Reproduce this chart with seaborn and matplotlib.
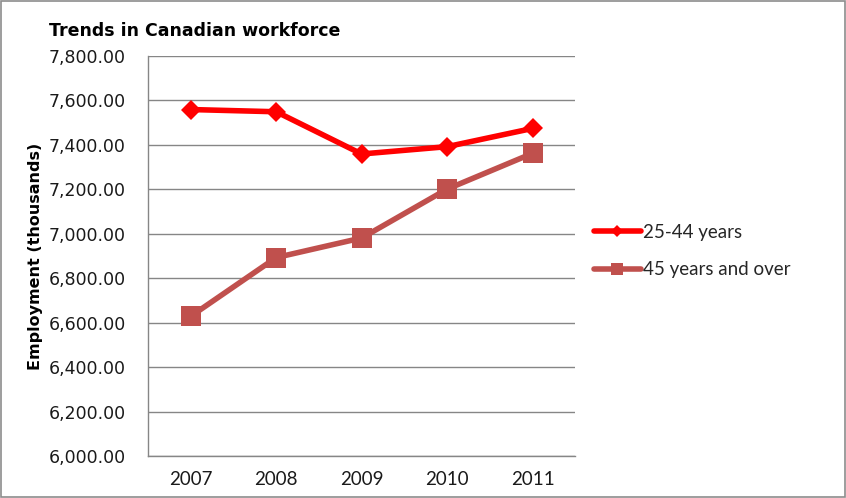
import matplotlib
matplotlib.use("Agg")
import matplotlib.pyplot as plt
import seaborn as sns
import pandas as pd
from matplotlib.lines import Line2D
from matplotlib.patches import Rectangle
from matplotlib.ticker import FuncFormatter

years = ["2007", "2008", "2009", "2010", "2011"]
series_names = ["25-44 years", "45 years and over"]
young = [7559, 7549, 7359, 7392, 7474]
older = [6629, 6893, 6981, 7201, 7362]
y_ticks = [6000, 6200, 6400, 6600, 6800, 7000, 7200, 7400, 7600, 7800]

sns.set_theme(style="white")
plt.rcParams["font.family"] = ["DejaVu Sans"]

df = pd.DataFrame({
    "pos": list(range(len(years))) * 2,
    "year": years * 2,
    "value": young + older,
    "series": [series_names[0]] * len(years) + [series_names[1]] * len(years),
})

fig = plt.figure(figsize=(8.46, 4.98), dpi=100)
ax = fig.add_axes([0.175, 0.0843, 0.505, 0.8033])

colors = {series_names[0]: "#FF0000", series_names[1]: "#C0504D"}
markers = {series_names[0]: "D", series_names[1]: "s"}
msizes = {series_names[0]: 10, series_names[1]: 14}

for name in series_names:
    sub = df[df["series"] == name]
    sns.lineplot(data=sub, x="pos", y="value", ax=ax, color=colors[name],
                 marker=markers[name], markersize=msizes[name],
                 markeredgewidth=0, linewidth=4, legend=False, zorder=3)

ax.set_xlim(-0.5, len(years) - 0.5)
ax.set_ylim(6000, 7800)
ax.set_xticks(range(len(years)))
ax.set_xticklabels(years, fontfamily="Lato", fontsize=13.5, color="#1a1a1a")
ax.set_yticks(y_ticks)
ax.yaxis.set_major_formatter(FuncFormatter(lambda v, p: f"{v:,.2f}"))
for t in ax.get_yticklabels():
    t.set_fontsize(12.5)
    t.set_color("#1a1a1a")
ax.tick_params(axis="y", length=0, pad=16)
ax.tick_params(axis="x", length=0, pad=11)
ax.set_xlabel("")
ax.set_ylabel("Employment (thousands)", fontsize=11.5, fontweight="bold",
              color="black")
ax.yaxis.set_label_coords(-0.246, 0.5)

ax.grid(axis="y", color="#868686", linewidth=1)
ax.grid(axis="x", visible=False)
for side in ["top", "right"]:
    ax.spines[side].set_visible(False)
ax.spines["left"].set_color("#868686")
ax.spines["bottom"].set_color("#868686")
ax.spines["left"].set_linewidth(1)
ax.spines["bottom"].set_linewidth(1)

fig.text(0.058, 0.928, "Trends in Canadian workforce", fontsize=12.5,
         fontweight="bold", ha="left", va="baseline", color="black")

handles = [Line2D([0], [0], color=colors[n], marker=markers[n], linewidth=4,
                  markersize=msizes[n] * 0.65, markeredgewidth=0)
           for n in series_names]
leg = fig.legend(handles, series_names, loc="center left",
                 bbox_to_anchor=(0.702, 0.496), frameon=False,
                 prop={"family": "Lato", "size": 13.5}, handlelength=2.5,
                 handletextpad=0.1, labelspacing=1.1, borderaxespad=0,
                 borderpad=0)

fig.add_artist(Rectangle((0.0015, 0.002), 0.997, 0.996, transform=fig.transFigure,
                         fill=False, edgecolor="#8c8c8c", linewidth=1.2))

fig.savefig("out.png", dpi=100)
